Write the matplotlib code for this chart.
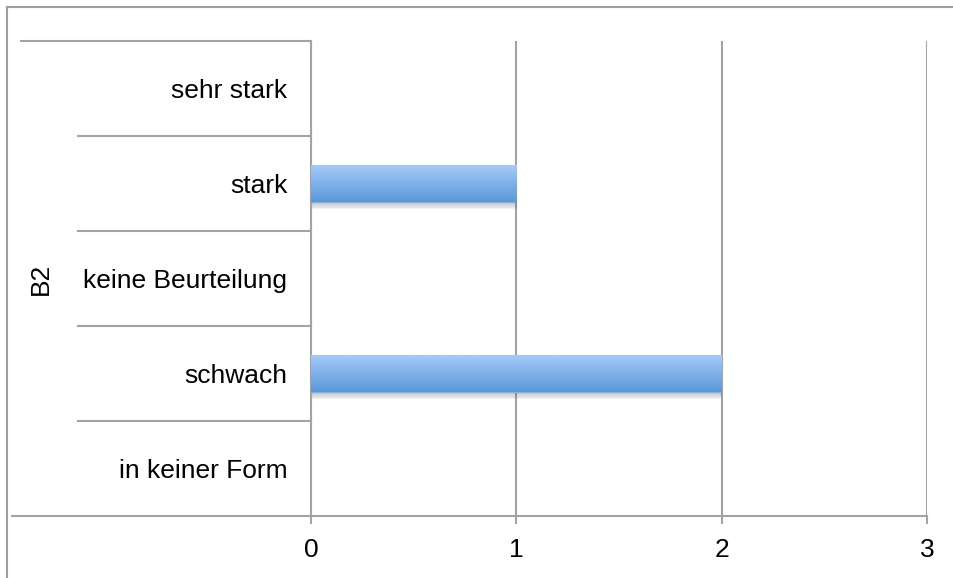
import matplotlib
matplotlib.use("Agg")
import matplotlib.pyplot as plt
import matplotlib.patheffects as pe
from matplotlib.colors import LinearSegmentedColormap
from matplotlib.lines import Line2D
import numpy as np

plt.rcParams['font.family'] = ['Liberation Sans', 'DejaVu Sans']

# answers for group B2, listed bottom to top
categories = ['in keiner Form', 'schwach', 'keine Beurteilung', 'stark', 'sehr stark']
values = [0, 2, 0, 1, 0]
group = 'B2'
xticks = [0, 1, 2, 3]

W, H = 954, 578
fig = plt.figure(figsize=(W / 100, H / 100), dpi=100)
ax = fig.add_axes([311 / W, 1 - 516 / H, 616 / W, 475 / H])

grid_c = '#a3a3a3'
fs = 19
ypos = np.arange(len(categories))

# soft drop shadow built from a few faint offset copies
shadow = [pe.SimplePatchShadow(offset=(0.5, -k), shadow_rgbFace='#555555', alpha=0.07)
          for k in (1, 2, 3, 4, 5)]
bars = ax.barh(ypos, values, height=0.4, color='#7fb0ea', zorder=3,
               path_effects=shadow + [pe.Normal()])

# vertical gradient fill on each bar
cmap = LinearSegmentedColormap.from_list('bar', ['#5a98d9', '#a8cbfa'])
grad = np.linspace(0, 1, 256).reshape(-1, 1)
for b in bars:
    if b.get_width() <= 0:
        continue
    x0, y0 = b.get_x(), b.get_y()
    im = ax.imshow(grad, cmap=cmap, aspect='auto', origin='lower',
                   extent=[x0, x0 + b.get_width(), y0, y0 + b.get_height()], zorder=4)
    im.set_clip_path(b)

ax.set_xlim(0, 3)
ax.set_ylim(-0.5, len(categories) - 0.5)
ax.set_xticks(xticks)
ax.set_xticklabels([str(t) for t in xticks])
ax.set_yticks(ypos)
ax.set_yticklabels(categories)
ax.tick_params(axis='y', length=0, pad=17, labelsize=fs)
ax.tick_params(axis='x', length=6, width=1.5, color=grid_c, pad=10, labelsize=fs)
ax.grid(axis='x', color=grid_c, linewidth=1.5, zorder=1)
ax.set_axisbelow(True)
for s in ['top', 'right']:
    ax.spines[s].set_visible(False)
ax.spines['left'].set_color(grid_c)
ax.spines['left'].set_linewidth(1.5)
ax.spines['bottom'].set_visible(False)

# category separators and group bracket on the left
yt = ax.get_yaxis_transform()
px = lambda p: (p - 311) / 616
ax.plot([px(21), 0], [len(categories) - 0.5] * 2, color=grid_c, lw=1.5, transform=yt, clip_on=False)
for y in np.arange(0.5, len(categories) - 0.5):
    ax.plot([px(78), 0], [y, y], color=grid_c, lw=1.5, transform=yt, clip_on=False)
ax.plot([px(12), 1], [-0.5, -0.5], color=grid_c, lw=1.5, transform=yt, clip_on=False)
ax.text(px(41), (len(categories) - 1) / 2, group, rotation=90, ha='center', va='center',
        fontsize=fs, transform=yt)

# outer frame
fig.add_artist(Line2D([7 / W, 7 / W], [0, 1 - 7 / H], color='#a0a0a0', lw=1.5))
fig.add_artist(Line2D([7 / W, 1], [1 - 7 / H, 1 - 7 / H], color='#a0a0a0', lw=1.5))

fig.savefig('out.png', dpi=100)
